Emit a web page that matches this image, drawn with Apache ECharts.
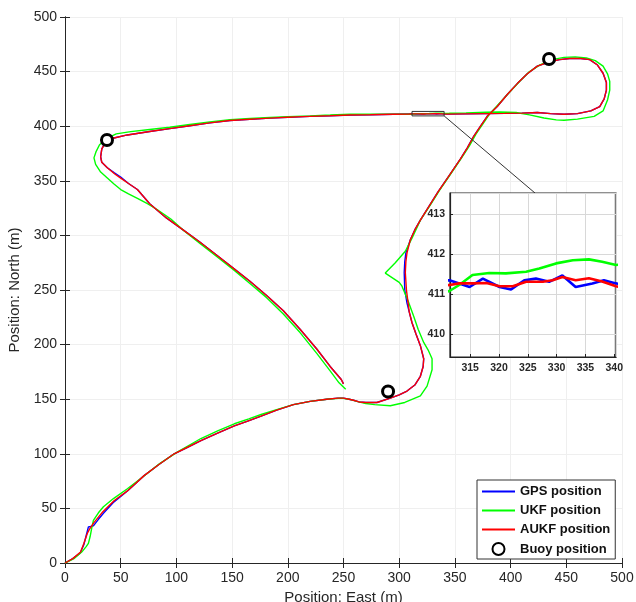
<!DOCTYPE html>
<html>
<head>
<meta charset="utf-8">
<script src="https://cdn.jsdelivr.net/npm/echarts@6.0.0/dist/echarts.min.js"></script>
<style>
html, body { margin: 0; padding: 0; background: #fff; }
#main { width: 636px; height: 602px; }
</style>
</head>
<body>
<div id="main"></div>
<script>
// tracks as [east, north] in metres, in sailing order
var gpsTrack = [[0,0],[7,4],[13.5,9],[17,17],[19.5,27],[21,33],[25.5,34],[30,40],[34.5,45.5],[44,56],[56,66],[71,80],[84,90],[98,100],[110,106],[122,112],[137,119],[152,125.5],[164,130],[176,134.5],[190,140],[205,145],[220,148],[235,150],[245,151],[250,151],[255,150],[259,149],[264,147.5],[270,147],[280,147],[292,151],[300,154],[307,157.5],[314,163],[319,171],[321.5,180],[322,187],[319,199],[315,210],[311.5,220],[309,230],[307,238],[305,250],[304.5,266],[305,276],[306,284],[310,296],[314,305],[319,314],[327,327],[335,340],[345,355],[355,370],[361,380],[367,391],[373,400],[379,409],[388,418],[397,429],[406,439],[415,448],[424,455],[435,459],[444,461],[453,462],[463,462],[471,461],[478,456],[483,448.5],[486,440],[486,433],[484,425],[480,418],[472,414],[460,411.5],[448,411],[436,411.5],[424,412.5],[410,412],[395,411.7],[379,411.5],[360,411.3],[343,411.2],[340.3,411.27],[338.2,411.35],[336.2,411.27],[333.3,411.18],[331,411.47],[328.7,411.31],[326.4,411.39],[324.4,411.35],[322.1,411.12],[320.1,411.18],[317.2,411.39],[314.9,411.18],[313.1,411.27],[311.4,411.35],[309,411.3],[295,411],[274,410.5],[256,410.3],[238,409.6],[220,409],[200,408.2],[184,407.4],[166,406.4],[148,405.2],[130,403],[112,400.4],[94,397.8],[76,395.2],[56,392],[43,389],[36,385],[33,379],[32,372],[33,367],[38,362],[44,357.5],[50,353.5],[57,347.5],[65,342],[76,329],[91,316],[106,305],[121,294],[136,282],[151,270],[166,258],[181,245],[196,231],[211,214],[226,196],[238,180],[248,168],[250,164]];

var ukfTrack = [[0,0],[8,4],[15,10],[19,15],[21,18],[22.5,24],[24,32],[25.5,39],[30,46],[34.5,51.5],[43.5,59],[56,68],[70,79],[85,91],[100,101],[122,114],[137,121],[152,127.5],[165,132],[176,136],[190,140.5],[205,145],[220,148],[235,150],[248,151],[255,150],[262,148],[270,146],[278,145],[292,144],[305,147],[319,153],[325,162],[329.5,177],[329.5,187],[326,195],[322,202],[317,214],[313,226],[308,240],[302.5,253.5],[300,257],[287.5,265.5],[296.5,275],[305.5,285.5],[311.5,297.5],[319,314],[328,328],[336,341],[346,356],[356,371],[363,382],[369,393],[375,402],[381,411],[390,421],[399,431],[408,441],[417,450],[426,456],[437,461],[448,463],[458,463.5],[468,462.5],[476,460],[483,455],[487,448],[489,441],[489,433],[487,424],[483,414],[475,409],[460,406.5],[448,405.5],[441,405.8],[430,407.5],[417,410.4],[405,412.5],[390,413],[378,412.8],[360,412.2],[345,411.8],[340.3,411.73],[337.9,411.81],[335.6,411.87],[332.8,411.85],[329.9,411.77],[327,411.64],[324.7,411.56],[321.2,411.52],[318.3,411.53],[315.4,411.48],[313.1,411.23],[311.4,411.08],[309,411],[300,411],[285,411],[270,411],[256,411],[238,410.2],[220,409.5],[200,408.8],[184,408],[166,407],[148,406],[130,404],[112,401.5],[94,399],[76,397],[59,395],[46,393],[38,389],[31,383],[28,377],[26,371],[27.5,365],[32,358],[38,352.5],[44,347],[50,342],[57,338],[65,334],[74,329],[83,323.5],[95,315],[107,304],[122,292],[137,280],[152,268],[166,256],[181,243],[196,228],[211,211],[226,192],[238,176],[246,165],[252,159]];

var aukfTrack = [[0,0],[7,4],[14,10],[17,18],[20,27],[22,31],[26,37],[34,47],[44,57],[56,66],[71,80],[84,90],[98,100],[110,106],[122,112],[137,119],[152,125.5],[164,130],[176,134.5],[190,140],[205,145],[220,148],[235,150],[245,151],[250,151],[255,150],[259,149],[264,147.5],[270,147],[280,147],[292,151],[300,154],[307,157.5],[314,163],[319,171],[321.5,180],[322,187],[319,199],[315,210],[311.5,220],[309,230],[308,238],[306.5,250],[305.5,266],[306,276],[307,284],[310,296],[314,305],[319,314],[327,327],[335,340],[345,355],[355,370],[361,380],[367,391],[373,400],[379,409],[388,418],[397,429],[406,439],[415,448],[424,455],[435,459],[444,461],[453,462],[463,462],[471,461],[478,456],[483,448.5],[486,440],[486,433],[484,425],[480,418],[472,414],[460,411.5],[448,411],[436,411.5],[424,412.5],[410,412],[395,411.7],[379,411.5],[360,411.3],[343,411.1],[340.3,411.2],[337.9,411.32],[335.6,411.4],[333.3,411.35],[331,411.43],[329.3,411.35],[327.6,411.31],[324.7,411.31],[322.4,411.2],[320.1,411.2],[317.8,411.28],[315.4,411.27],[313.1,411.27],[311.4,411.23],[309,411.2],[295,411],[274,410.5],[256,410.3],[238,409.6],[220,409],[200,408.2],[184,407.4],[166,406.4],[148,405.2],[130,403],[112,400.4],[94,397.8],[76,395.2],[56,392],[43,389],[36,385],[33,379],[32,372],[33,367],[38,362],[45,356],[50,352.5],[57,347.5],[65,342],[76,329],[91,316],[106,305],[121,294],[136,282],[151,270],[166,258],[181,245],[196,231],[211,214],[226,196],[238,180],[248,168],[250,164]];

var buoyEast = [37.7, 434.5, 290];
var buoyNorth = [387.4, 461.5, 157];

var seriesNames = ['GPS position', 'UKF position', 'AUKF position', 'Buoy position'];

// zoom window shown in the inset
var zoomEast = [311.5, 340.3];
var zoomNorth = [409.43, 413.53];
// end of the connector, on the inset's top edge
var connectorEnd = [421.9, 338.8];

window.addEventListener('load', function () {
    var chart = echarts.init(document.getElementById('main'));
    var font = 'Liberation Sans, Arial, sans-serif';

    var buoys = [];
    for (var i = 0; i < buoyEast.length; i++) {
        buoys.push([buoyEast[i], buoyNorth[i]]);
    }
    var box = [
        [zoomEast[0], zoomNorth[0]], [zoomEast[1], zoomNorth[0]],
        [zoomEast[1], zoomNorth[1]], [zoomEast[0], zoomNorth[1]],
        [zoomEast[0], zoomNorth[0]]
    ];
    var connector = [[zoomEast[1], zoomNorth[0]], connectorEnd];

    var tracks = [gpsTrack, ukfTrack, aukfTrack];
    var colors = ['#0000ff', '#00ff00', '#ff0000'];

    var mainAxisBase = {
        min: 0, max: 500, interval: 50,
        axisLine: { show: true, lineStyle: { color: '#262626', width: 1 } },
        axisTick: { show: true, inside: true, length: 5, lineStyle: { color: '#262626' } },
        axisLabel: { color: '#262626', fontFamily: font, fontSize: 14 },
        splitLine: { show: false }
    };

    function mainAxis(extra) {
        return Object.assign({}, mainAxisBase, extra);
    }

    var insetLabel = { color: '#262626', fontFamily: font, fontSize: 10.5, fontWeight: 'bold' };

    var series = [];
    for (var k = 0; k < 3; k++) {
        series.push({
            name: seriesNames[k], type: 'line', data: tracks[k],
            xAxisIndex: 0, yAxisIndex: 0,
            showSymbol: false, symbol: 'none', smooth: false,
            lineStyle: { color: colors[k], width: 1.4 },
            itemStyle: { color: colors[k] },
            z: 3 + k
        });
    }
    series.push({
        name: 'Buoy position', type: 'scatter', data: buoys,
        xAxisIndex: 0, yAxisIndex: 0,
        symbol: 'circle', symbolSize: 11,
        itemStyle: { color: '#fff', borderColor: '#000', borderWidth: 3, opacity: 1 },
        z: 8
    });
    series.push({
        name: 'zoomBox', type: 'line', data: box,
        xAxisIndex: 0, yAxisIndex: 0, showSymbol: false, symbol: 'none',
        lineStyle: { color: '#333', width: 1 }, z: 9
    });
    series.push({
        name: 'connector', type: 'line', data: connector,
        xAxisIndex: 0, yAxisIndex: 0, showSymbol: false, symbol: 'none',
        lineStyle: { color: '#333', width: 1 }, z: 9
    });
    // inset copies of the three tracks
    for (var m = 0; m < 3; m++) {
        series.push({
            name: seriesNames[m], type: 'line', data: tracks[m],
            xAxisIndex: 2, yAxisIndex: 2,
            showSymbol: false, symbol: 'none',
            lineStyle: { color: colors[m], width: 2.6 },
            itemStyle: { color: colors[m] },
            z: 12 + m
        });
    }

    // line entries in the legend: plain line, no marker
    var hidden = { color: 'rgba(0,0,0,0)', borderColor: 'rgba(0,0,0,0)', borderWidth: 0, opacity: 0 };
    var legendData = [
        { name: seriesNames[0], itemStyle: hidden },
        { name: seriesNames[1], itemStyle: hidden },
        { name: seriesNames[2], itemStyle: hidden },
        { name: seriesNames[3] }
    ];

    var option = {
        backgroundColor: '#fff',
        animation: false,
        textStyle: { fontFamily: font },
        grid: [
            { left: 65, right: 14, top: 17, bottom: 39, outerBoundsMode: 'none', containLabel: false },
            { left: 450, top: 193, width: 166, height: 164, show: true, outerBoundsMode: 'none',
              backgroundColor: '#fff', borderColor: '#222', borderWidth: 1.2, z: 10 }
        ],
        legend: {
            data: legendData,
            orient: 'vertical',
            left: 477, top: 480,
            padding: [5, 5, 3, 4],
            itemWidth: 33, itemHeight: 12, itemGap: 6,
            backgroundColor: '#fff', borderColor: '#333', borderWidth: 1,
            textStyle: { fontFamily: font, fontSize: 13, fontWeight: 'bold', color: '#111' },
            z: 20
        },
        xAxis: [
            mainAxis({
                gridIndex: 0, position: 'bottom',
                name: 'Position: East (m)', nameLocation: 'middle', nameGap: 22,
                nameTextStyle: { color: '#262626', fontFamily: font, fontSize: 15 },
                axisLabel: { color: '#262626', fontFamily: font, fontSize: 14, margin: 8 },
                splitLine: { show: true, lineStyle: { color: '#efefef' } }
            }),
            mainAxis({ gridIndex: 0, position: 'top', axisLabel: { show: false } }),
            {
                gridIndex: 1, min: zoomEast[0], max: zoomEast[1], splitNumber: 5,
                axisLine: { show: true, lineStyle: { color: '#222', width: 1.2 } },
                axisTick: { show: true, inside: true, length: 3, lineStyle: { color: '#222' } },
                axisLabel: Object.assign({ margin: 6, showMinLabel: false, showMaxLabel: false,
                    formatter: function (v) { return v % 5 === 0 ? String(v) : ''; } }, insetLabel),
                splitLine: { show: true, lineStyle: { color: '#d8d8d8' } },
                z: 11
            }
        ],
        yAxis: [
            mainAxis({
                gridIndex: 0, position: 'left',
                name: 'Position: North (m)', nameLocation: 'middle', nameGap: 40,
                nameTextStyle: { color: '#262626', fontFamily: font, fontSize: 15 },
                axisLabel: { color: '#262626', fontFamily: font, fontSize: 14, margin: 8 },
                splitLine: { show: true, lineStyle: { color: '#efefef' } }
            }),
            mainAxis({ gridIndex: 0, position: 'right', axisLabel: { show: false } }),
            {
                gridIndex: 1, min: zoomNorth[0], max: zoomNorth[1], splitNumber: 4,
                axisLine: { show: true, lineStyle: { color: '#222', width: 1.2 } },
                axisTick: { show: true, inside: true, length: 3, lineStyle: { color: '#222' } },
                axisLabel: Object.assign({ margin: 5, showMinLabel: false, showMaxLabel: false,
                    formatter: function (v) { return Math.abs(v - Math.round(v)) < 1e-6 ? String(Math.round(v)) : ''; } }, insetLabel),
                splitLine: { show: true, lineStyle: { color: '#d8d8d8' } },
                z: 11
            }
        ],
        series: series
    };
    chart.setOption(option);
});
</script>
</body>
</html>
